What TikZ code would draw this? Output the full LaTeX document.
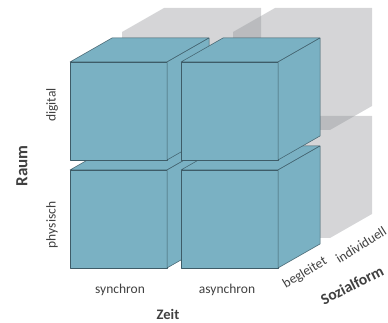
\documentclass[tikz,border=0pt]{standalone}
\usepackage{fontspec}
\setmainfont{Carlito}
\definecolor{cubeblue}{RGB}{122,177,195}
\definecolor{cubeedge}{RGB}{62,92,104}
\definecolor{ghostgray}{RGB}{140,142,146}
\definecolor{labelgray}{RGB}{64,64,64}

\begin{document}
\begin{tikzpicture}[x=1pt,y=1pt,
        cubeface/.style={fill=cubeblue,draw=cubeedge,line width=0.5pt,line join=round},
        ghost/.style={fill=ghostgray,fill opacity=0.37},
        lbl/.style={text=labelgray,inner sep=0pt,font=\fontsize{13.5}{15}\selectfont},
        ttl/.style={text=labelgray,inner sep=0pt,font=\fontsize{14.5}{16}\selectfont\bfseries}]
        \useasboundingbox (0,0) rectangle (388,323);
        % back layer: individuell
        \foreach \x/\y in {122/85,233/85,122/193,233/193}{
            \fill [ghost] (\x,\y) -- ++(97,0) -- ++(42,24) -- ++(0,98) -- ++(-97,0) -- ++(-42,-24) -- cycle;
        }
        % front layer: begleitet
        \foreach \x/\y in {70/55,181/55,70/163,181/163}{
            \draw [cubeface] (\x,\y) rectangle ++(97,98);
            \draw [cubeface] (\x,\y+98) -- ++(42,24) -- ++(97,0) -- ++(-42,-24) -- cycle;
            \draw [cubeface] (\x+97,\y) -- ++(42,24) -- ++(0,98) -- ++(-42,-24) -- cycle;
        }
        \node [lbl,rotate=90] (digital) at (52,218) {digital};
        \node [lbl,rotate=90] (physisch) at (52,98) {physisch};
        \node [ttl,rotate=90,font=\fontsize{17}{19}\selectfont\bfseries] (raum) at (22,157) {Raum};
        \node [lbl] (synchron) at (120,33) {synchron};
        \node [lbl] (asynchron) at (227,33) {asynchron};
        \node [ttl] (zeit) at (168,9) {Zeit};
        \node [lbl,rotate=31] (begleitet) at (305,50) {begleitet};
        \node [lbl,rotate=32] (individuell) at (361,78) {individuell};
        \node [ttl,rotate=27,font=\fontsize{15.5}{17}\selectfont\bfseries] (sozialform) at (352,38) {Sozialform};

    \end{tikzpicture}
\end{document}
